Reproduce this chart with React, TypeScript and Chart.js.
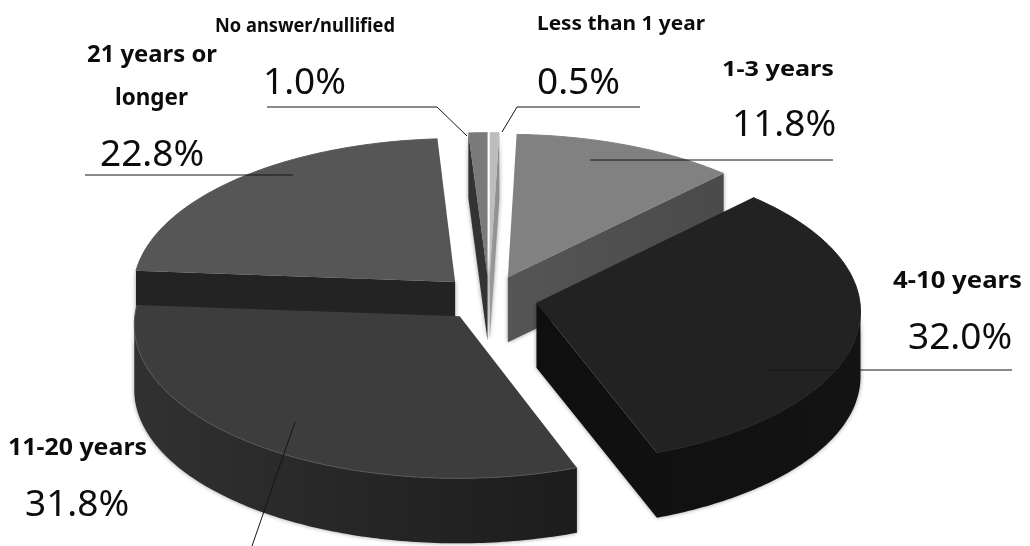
import { useEffect, useRef } from "react";
import { Chart, registerables, type Plugin } from "chart.js";

Chart.register(...registerables);

// Tenure shares, clockwise from twelve o'clock.
const categories = ["Less than 1 year", "1-3 years", "4-10 years", "11-20 years", "21 years or longer", "No answer/nullified"];
const shares = [0.5, 11.8, 32.0, 31.8, 22.8, 1.0];
const topColors = ["#bdbdbd", "#818181", "#222222", "#3d3d3d", "#565656", "#7a7a7a"];
const wallLeftColors = ["#9a9a9a", "#555555", "#0f0f0f", "#313131", "#232323", "#333333"];
const wallRightColors = ["#8c8c8c", "#4a4a4a", "#131313", "#1c1c1c", "#232323", "#333333"];
const rimColors = ["#bdbdbd", "#818181", "#222222", "#565656", "#565656", "#7a7a7a"];
const paintOrder = [5, 0, 1, 4, 2, 3];

// Projection of the flat pie onto the tilted view.
const RADIUS_X = 323;
const RADIUS_Y = 152;
const PERSPECTIVE = 0.05;
const DEPTH = 65;
const EXPLODE = 0.15;

type Caption = { text: string; x: number; y: number; size: number; width?: number };
const captions: Caption[] = [
  { text: "No answer/nullified", x: 215, y: 27, size: 19, width: 180 },
  { text: "1.0%", x: 263, y: 83, size: 37 },
  { text: "Less than 1 year", x: 537, y: 25, size: 19, width: 168 },
  { text: "0.5%", x: 537, y: 83, size: 37 },
  { text: "21 years or", x: 87, y: 55, size: 23, width: 130 },
  { text: "longer", x: 115, y: 98, size: 23, width: 73 },
  { text: "22.8%", x: 100, y: 155, size: 37 },
  { text: "1-3 years", x: 722, y: 70, size: 22, width: 112 },
  { text: "11.8%", x: 732, y: 125, size: 37 },
  { text: "4-10 years", x: 893, y: 281, size: 23, width: 129 },
  { text: "32.0%", x: 908, y: 338, size: 37 },
  { text: "11-20 years", x: 8, y: 448, size: 23, width: 139 },
  { text: "31.8%", x: 25, y: 505, size: 37 },
];
const leaders: number[][][] = [
  [[267, 107], [437, 107], [467, 136]],
  [[502, 132], [517, 107], [640, 107]],
  [[85, 175], [293, 175]],
  [[590, 160], [833, 160]],
  [[768, 370], [1012, 370]],
  [[295, 422], [252, 546]],
];

const tiltedPie: Plugin<"pie"> = {
  id: "tiltedPie",
  beforeDatasetsDraw(chart) {
    const { ctx } = chart;
    const arcs = chart.getDatasetMeta(0).data as any[];

    for (const index of paintOrder) {
      const arc = arcs[index];
      const start: number = arc.startAngle;
      const end: number = arc.endAngle;
      const mid = (start + end) / 2;
      const shiftU = EXPLODE * Math.cos(mid);
      const shiftV = EXPLODE * Math.sin(mid);
      const project = (r: number, angle: number) => {
        const u = r * Math.cos(angle) + shiftU;
        const v = r * Math.sin(angle) + shiftV;
        const w = 1 / (1 - PERSPECTIVE * v);
        return { x: arc.x + u * w * RADIUS_X, y: arc.y + v * w * RADIUS_Y };
      };

      const rim: { x: number; y: number }[] = [];
      const steps = Math.max(2, Math.ceil((end - start) / 0.015));
      for (let i = 0; i <= steps; i++) {
        rim.push(project(1, start + ((end - start) * i) / steps));
      }
      const outline = [project(0, start), ...rim];

      const xs = outline.map((p) => p.x);
      const wallFill = ctx.createLinearGradient(Math.min(...xs), 0, Math.max(...xs) + 1, 0);
      wallFill.addColorStop(0, wallLeftColors[index]);
      wallFill.addColorStop(1, wallRightColors[index]);

      // Side walls: runs of edges heading left on screen face the viewer.
      const fillRun = (run: { x: number; y: number }[]) => {
        if (run.length < 2) return;
        ctx.beginPath();
        run.forEach((p, i) => (i ? ctx.lineTo(p.x, p.y) : ctx.moveTo(p.x, p.y)));
        for (let i = run.length - 1; i >= 0; i--) ctx.lineTo(run[i].x, run[i].y + DEPTH);
        ctx.closePath();
        ctx.fill();
      };
      ctx.save();
      ctx.fillStyle = wallFill;
      ctx.shadowColor = "rgba(0,0,0,0.4)";
      ctx.shadowBlur = 4;
      let run: { x: number; y: number }[] = [];
      for (let i = 0; i < outline.length; i++) {
        const a = outline[i];
        const b = outline[(i + 1) % outline.length];
        if (b.x < a.x) {
          if (!run.length) run.push(a);
          run.push(b);
        } else {
          fillRun(run);
          run = [];
        }
      }
      fillRun(run);
      ctx.restore();

      // Top face, with its slightly lighter rim.
      ctx.beginPath();
      outline.forEach((p, i) => (i ? ctx.lineTo(p.x, p.y) : ctx.moveTo(p.x, p.y)));
      ctx.closePath();
      ctx.fillStyle = topColors[index];
      ctx.fill();
      ctx.beginPath();
      rim.forEach((p, i) => (i ? ctx.lineTo(p.x, p.y) : ctx.moveTo(p.x, p.y)));
      ctx.strokeStyle = rimColors[index];
      ctx.lineWidth = 1;
      ctx.stroke();
    }
    return false;
  },
  afterDraw(chart) {
    const { ctx } = chart;
    ctx.save();
    ctx.strokeStyle = "#151515";
    ctx.lineWidth = 1;
    for (const path of leaders) {
      ctx.beginPath();
      path.forEach(([x, y], i) => (i ? ctx.lineTo(x, y) : ctx.moveTo(x, y)));
      ctx.stroke();
    }
    ctx.fillStyle = "#0c0c0c";
    ctx.textBaseline = "middle";
    ctx.textAlign = "left";
    for (const c of captions) {
      ctx.font = c.width ? `bold ${c.size}px "Noto Sans"` : `${c.size}px "Noto Sans"`;
      ctx.save();
      ctx.translate(c.x, c.y);
      // Bold captions are set a little wider than the font's natural measure.
      if (c.width) ctx.scale(c.width / ctx.measureText(c.text).width, 1);
      ctx.fillText(c.text, 0, 0);
      ctx.restore();
    }
    ctx.restore();
  },
};

export default function App() {
  const canvasRef = useRef<HTMLCanvasElement>(null);
  useEffect(() => {
    const chart = new Chart(canvasRef.current!, {
      type: "pie",
      data: { labels: categories, datasets: [{ data: shares, backgroundColor: topColors, borderWidth: 0 }] },
      options: {
        animation: false,
        responsive: false,
        rotation: 0,
        layout: { padding: { top: 50, right: 52 } },
        plugins: { legend: { display: false }, tooltip: { enabled: false } },
      },
      plugins: [tiltedPie],
    });
    return () => chart.destroy();
  }, []);
  return (
    <div style={{ position: "absolute", left: 0, top: 0, width: 1030, height: 546, background: "#ffffff" }}>
      <canvas ref={canvasRef} width={1030} height={546} style={{ display: "block" }} />
    </div>
  );
}
